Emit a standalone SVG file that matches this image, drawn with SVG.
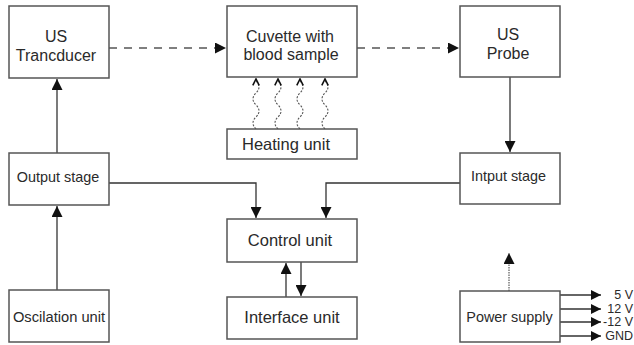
<svg xmlns="http://www.w3.org/2000/svg" width="634" height="345" viewBox="0 0 634 345">
<defs>
<style>
.box{fill:#fff;stroke:#555;stroke-width:1.5}
text{font-family:"Liberation Sans",Arial,sans-serif;fill:#2a2a2a}
.t{font-size:16px;text-anchor:middle}
.s{font-size:14.4px;text-anchor:middle}
.v{font-size:12.5px;text-anchor:end}
.ln{fill:none;stroke:#333;stroke-width:1.3}
.dash{fill:none;stroke:#555;stroke-width:1.3;stroke-dasharray:8,7}
.wave{fill:none;stroke:#555;stroke-width:1.1;stroke-dasharray:2,1.5}
.dot{fill:none;stroke:#666;stroke-width:1.3;stroke-dasharray:1.5,1}
</style>
<marker id="ah" viewBox="0 0 10 10" refX="10" refY="5" markerWidth="11" markerHeight="10" markerUnits="userSpaceOnUse" orient="auto">
<path d="M0,0 L10,5 L0,10 z" fill="#111"/>
</marker>
<marker id="ahL" viewBox="0 0 10 10" refX="10" refY="5" markerWidth="14" markerHeight="11" markerUnits="userSpaceOnUse" orient="auto">
<path d="M0,0 L10,5 L0,10 z" fill="#111"/>
</marker>
<marker id="chev" viewBox="0 0 10 10" refX="9" refY="5" markerWidth="8" markerHeight="10" markerUnits="userSpaceOnUse" orient="auto">
<path d="M1,1 L9,5 L1,9" fill="none" stroke="#111" stroke-width="2"/>
</marker>
</defs>
<g id="connectors">
<path class="dash" d="M109,48 H226" marker-end="url(#ahL)"/>
<path class="dash" d="M357,48 H459" marker-end="url(#ahL)"/>
<path class="ln" d="M57,153 V79" marker-end="url(#ahL)"/>
<path class="ln" d="M57,290 V206" marker-end="url(#ahL)"/>
<path class="ln" d="M510,77 V152" marker-end="url(#ahL)"/>
<path class="ln" d="M109,183 H256 V218" marker-end="url(#ahL)"/>
<path class="ln" d="M460,183 H326 V218" marker-end="url(#ahL)"/>
<path class="ln" d="M286,297 V263" marker-end="url(#ahL)"/>
<path class="ln" d="M301,262 V296" marker-end="url(#ahL)"/>
<path class="dot" d="M509,291 V253" marker-end="url(#ahL)"/>
<path class="wave" d="M256,129 q-6,-6 0,-12 q6,-6 0,-12 q-6,-6 0,-12 q6,-6 0,-12 V79" marker-end="url(#chev)"/>
<path class="wave" d="M278,129 q-6,-6 0,-12 q6,-6 0,-12 q-6,-6 0,-12 q6,-6 0,-12 V79" marker-end="url(#chev)"/>
<path class="wave" d="M300,129 q-6,-6 0,-12 q6,-6 0,-12 q-6,-6 0,-12 q6,-6 0,-12 V79" marker-end="url(#chev)"/>
<path class="wave" d="M325,129 q-6,-6 0,-12 q6,-6 0,-12 q-6,-6 0,-12 q6,-6 0,-12 V79" marker-end="url(#chev)"/>
<path class="ln" d="M560,295 H601" marker-end="url(#ah)"/>
<path class="ln" d="M560,309 H601" marker-end="url(#ah)"/>
<path class="ln" d="M560,322 H601" marker-end="url(#ah)"/>
<path class="ln" d="M560,336 H601" marker-end="url(#ah)"/>
</g>
<g id="us-transducer"><rect class="box" x="9" y="6" width="100" height="72"/><text class="t" x="56" y="42">US</text><text class="t" x="56" y="61">Trancducer</text></g>
<g id="cuvette"><rect class="box" x="227" y="6" width="130" height="71"/><text class="t" x="290" y="42">Cuvette with</text><text class="t" x="291" y="60">blood sample</text></g>
<g id="us-probe"><rect class="box" x="460" y="6" width="100" height="71"/><text class="t" x="508" y="40">US</text><text class="t" x="508" y="59">Probe</text></g>
<g id="heating-unit"><rect class="box" x="227" y="129" width="130" height="30"/><text class="t" x="286" y="150" style="font-size:16.5px">Heating unit</text></g>
<g id="output-stage"><rect class="box" x="9" y="153" width="100" height="52"/><text class="s" x="58" y="182">Output stage</text></g>
<g id="input-stage"><rect class="box" x="460" y="153" width="100" height="51"/><text class="s" x="508.5" y="181">Intput stage</text></g>
<g id="control-unit"><rect class="box" x="227" y="219" width="130" height="43"/><text class="t" x="290" y="246" style="font-size:16.5px">Control unit</text></g>
<g id="interface-unit"><rect class="box" x="227" y="297" width="130" height="42"/><text class="t" x="292" y="323" style="font-size:16.5px">Interface unit</text></g>
<g id="oscilation-unit"><rect class="box" x="9" y="290" width="100" height="52"/><text class="s" x="59" y="322" style="font-size:14.7px">Oscilation unit</text></g>
<g id="power-supply"><rect class="box" x="460" y="291" width="100" height="51"/><text class="s" x="509.5" y="322">Power supply</text>
<text class="v" x="633" y="299">5 V</text><text class="v" x="633" y="313">12 V</text><text class="v" x="633" y="326">-12 V</text><text class="v" x="633" y="340">GND</text></g>
</svg>
